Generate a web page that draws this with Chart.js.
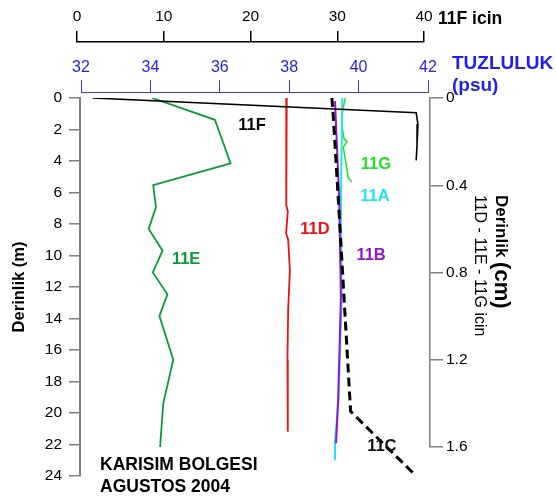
<!DOCTYPE html>
<html>
<head>
<meta charset="utf-8">
<script src="https://cdn.jsdelivr.net/npm/chart.js@4.4.0/dist/chart.umd.min.js"></script>
<style>
  html, body { margin: 0; padding: 0; background: #fff; }
</style>
</head>
<body>
<canvas id="myChart" width="556" height="501"></canvas>
<script>
// 11F - values on the "11F icin" scale (0-40), depth in m
var f11Val = [1.8, 39.1, 39.3, 39.2, 39.1];
var f11Depth = [0, 0.93, 1.67, 2.95, 3.96];

// 11E, 11D, 11G - salinity (psu), depth in cm (right axis)
var e11Sal = [34.05, 35.86, 36.31, 34.08, 34.16, 33.95, 34.35, 34.07, 34.49, 34.26, 34.66, 34.37, 34.28];
var e11Depth = [0, 0.1, 0.3, 0.4, 0.5, 0.6, 0.7, 0.8, 0.9, 1.0, 1.2, 1.4, 1.6];

var d11Sal = [37.93, 37.92, 37.91, 37.96, 37.91, 37.97, 38.02, 37.97, 37.95, 37.96];
var d11Depth = [0, 0.23, 0.49, 0.52, 0.62, 0.65, 0.79, 0.97, 1.2, 1.53];

var g11Sal = [39.61, 39.51, 39.51, 39.58, 39.67, 39.56, 39.58, 39.64, 39.7, 39.73, 39.8];
var g11Depth = [0, 0.087, 0.118, 0.187, 0.2, 0.225, 0.248, 0.302, 0.364, 0.371, 0.384];

// 11A, 11B, 11C - salinity (psu), depth in m (left axis)
var a11Sal = [39.53, 39.49, 39.51, 39.42, 39.32, 39.32];
var a11Depth = [0, 6.3, 12.7, 19.2, 21.9, 23.0];

var b11Sal = [39.32, 39.44, 39.49, 39.41, 39.35];
var b11Depth = [0.2, 6.34, 12.7, 19.17, 21.92];

var c11Sal = [39.23, 39.27, 39.41, 39.58, 39.75, 39.77, 41.58];
var c11Depth = [0, 1.15, 6.23, 12.68, 19.17, 19.9, 23.83];

// Axis ranges / ticks
var fTicks = [0, 10, 20, 30, 40];
var psuRange = [32, 42];
var mRange = [0, 24];
var cmRange = [0, 1.6];

// Series labels, placed in psu / m coordinates
var seriesNotes = [
    { text: '11F', x: 36.93, y: 1.74, color: '#000000' },
    { text: '11G', x: 40.5, y: 4.22, color: '#1ee61e' },
    { text: '11A', x: 40.47, y: 6.28, color: '#22e4f4' },
    { text: '11D', x: 38.74, y: 8.35, color: '#f01010' },
    { text: '11B', x: 40.36, y: 10.0, color: '#9414d4' },
    { text: '11E', x: 35.03, y: 10.26, color: '#0a9c3c' },
    { text: '11C', x: 40.67, y: 22.12, color: '#111111' }
];

Chart.defaults.font.family = "'Liberation Sans', Arial, Helvetica, sans-serif";

function pts(xs, ys) {
    let out = [];
    for (let i = 0; i < xs.length; i++) {
        out.push({ x: xs[i], y: ys[i] });
    }
    return out;
}

function line(data, color, xAxis, yAxis, width, dash) {
    return {
        data: data,
        borderColor: color,
        borderWidth: width,
        borderDash: dash || [],
        showLine: true,
        pointRadius: 0,
        fill: false,
        tension: 0,
        xAxisID: xAxis,
        yAxisID: yAxis
    };
}

// Move the top axes and the cm axis to where the original has them
function place(scale, box) {
    if (box.left !== undefined) { scale.left = box.left; scale.right = box.right; scale.width = box.right - box.left; }
    if (box.bottom !== undefined) {
        let h = box.top !== undefined ? box.bottom - box.top : scale.height;
        scale.bottom = box.bottom;
        scale.top = box.top !== undefined ? box.top : box.bottom - h;
        scale.height = scale.bottom - scale.top;
    }
    scale.configure();
}

var axisPlacement = {
    id: 'axisPlacement',
    afterLayout(chart) {
        const s = chart.scales;
        place(s.xF, { left: 77, right: 424, bottom: 42 });
        place(s.xS, { left: 81, right: 428, bottom: 92 });
        place(s.yC, { top: s.yC.top, bottom: 447 });
    }
};

var textLayer = {
    id: 'textLayer',
    afterDraw(chart) {
        const ctx = chart.ctx;
        const xs = chart.scales.xS, ym = chart.scales.yM;
        ctx.save();
        ctx.textBaseline = 'middle';

        ctx.textAlign = 'center';
        ctx.font = "bold 16.5px 'Liberation Sans', Arial, sans-serif";
        seriesNotes.forEach(function (n) {
            ctx.fillStyle = n.color;
            ctx.fillText(n.text, xs.getPixelForValue(n.x), ym.getPixelForValue(n.y));
        });

        ctx.textAlign = 'left';
        ctx.fillStyle = '#000';
        ctx.font = "bold 17.5px 'Liberation Sans', Arial, sans-serif";
        ctx.fillText('11F icin', 438, 19);
        ctx.fillText('KARISIM BOLGESI', 100, 465);
        ctx.fillText('AGUSTOS 2004', 100, 487);

        ctx.fillStyle = '#1f1fef';
        ctx.font = "bold 19px 'Liberation Sans', Arial, sans-serif";
        ctx.fillText('TUZLULUK', 452, 64);
        ctx.fillText('(psu)', 452, 86);

        // right axis title, rotated
        ctx.fillStyle = '#000';
        ctx.save();
        ctx.translate(501, 195);
        ctx.rotate(Math.PI / 2);
        ctx.font = "bold 17px 'Liberation Sans', Arial, sans-serif";
        ctx.fillText('Derinlik ', 0, 0);
        let w = ctx.measureText('Derinlik ').width;
        ctx.font = "bold 22px 'Liberation Sans', Arial, sans-serif";
        ctx.fillText('(cm)', w, 0);
        ctx.restore();

        ctx.save();
        ctx.translate(479, 195);
        ctx.rotate(Math.PI / 2);
        ctx.font = "16px 'Liberation Sans', Arial, sans-serif";
        ctx.fillText('11D - 11E - 11G icin', 0, 0);
        ctx.restore();

        ctx.restore();
    }
};

var datasets = [
    line(pts(c11Sal, c11Depth), '#000000', 'xS', 'yM', 3, [9, 5]),
    line(pts(f11Val, f11Depth), '#000000', 'xF', 'yM', 1.6),
    line(pts(b11Sal, b11Depth), '#9414d4', 'xS', 'yM', 2),
    line(pts(a11Sal, a11Depth), '#22e4f4', 'xS', 'yM', 2),
    line(pts(g11Sal, g11Depth), '#1ee61e', 'xS', 'yC', 1.5),
    line(pts(d11Sal, d11Depth), '#f01010', 'xS', 'yC', 1.8),
    line(pts(e11Sal, e11Depth), '#0a9c3c', 'xS', 'yC', 1.8)
];

var ctx = document.getElementById('myChart').getContext('2d');
var chart = new Chart(ctx, {
    type: 'scatter',
    data: { datasets: datasets },
    plugins: [axisPlacement, textLayer],
    options: {
        responsive: false,
        animation: false,
        devicePixelRatio: 1,
        layout: { padding: { top: 0, bottom: 25, left: 0, right: 0 } },
        plugins: { legend: { display: false }, tooltip: { enabled: false } },
        scales: {
            xF: {
                type: 'linear', position: 'top', weight: 1,
                min: fTicks[0], max: fTicks[fTicks.length - 1],
                afterBuildTicks: function (s) { s.ticks = fTicks.map(function (v) { return { value: v }; }); },
                ticks: { color: '#000', font: { size: 15.5 }, padding: 5 },
                grid: { drawOnChartArea: false, tickLength: 11, color: '#000', lineWidth: 1.5 },
                border: { color: '#000', width: 1.5 },
                afterFit: function (s) { s.height = 42; }
            },
            xS: {
                type: 'linear', position: 'top', weight: 0,
                min: psuRange[0], max: psuRange[1],
                ticks: { stepSize: 2, color: '#1f1fef', font: { size: 16 }, padding: 3 },
                grid: { drawOnChartArea: false, tickLength: 12, color: '#3a3af0', lineWidth: 1 },
                border: { color: '#3a3af0', width: 1 },
                afterFit: function (s) { s.height = 56; }
            },
            yM: {
                type: 'linear', position: 'left', reverse: true,
                min: mRange[0], max: mRange[1],
                ticks: { stepSize: 2, color: '#000', font: { size: 15.5 }, padding: 7 },
                grid: { drawOnChartArea: false, tickLength: 11, color: '#7f7f7f', lineWidth: 1.5 },
                border: { color: '#7f7f7f', width: 2 },
                title: { display: true, text: 'Derinlik (m)', color: '#000', font: { size: 16.5, weight: 'bold' }, padding: { top: 10, bottom: 0 } },
                afterFit: function (s) { s.width = 80; }
            },
            yC: {
                type: 'linear', position: 'right', reverse: true,
                min: cmRange[0], max: cmRange[1],
                ticks: { stepSize: 0.4, color: '#000', font: { size: 15.5 }, padding: 3 },
                grid: { drawOnChartArea: false, tickLength: 13, color: '#7f7f7f', lineWidth: 1.5 },
                border: { color: '#7f7f7f', width: 1.5 },
                afterFit: function (s) { s.width = 126; }
            }
        }
    }
});
</script>
</body>
</html>
